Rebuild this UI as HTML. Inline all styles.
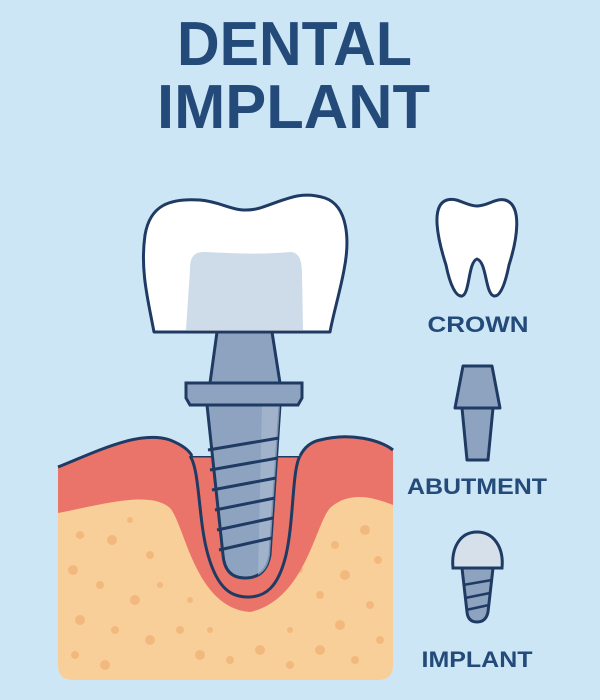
<!DOCTYPE html>
<html><head><meta charset="utf-8"><style>
html,body{margin:0;padding:0;background:#cde6f6;}
svg{display:block}
</style></head><body>
<svg width="600" height="700" viewBox="0 0 600 700" xmlns="http://www.w3.org/2000/svg">
<rect width="600" height="700" fill="#cde6f6"/>
<g font-family="Liberation Sans, sans-serif" font-weight="bold" fill="#234a78">
<text x="177" y="65" font-size="62" textLength="235" lengthAdjust="spacingAndGlyphs">DENTAL</text>
<text x="157" y="128" font-size="62" textLength="273" lengthAdjust="spacingAndGlyphs">IMPLANT</text>
<text x="478" y="332" font-size="22" text-anchor="middle" textLength="101" lengthAdjust="spacingAndGlyphs">CROWN</text>
<text x="477" y="494" font-size="22" text-anchor="middle" textLength="140" lengthAdjust="spacingAndGlyphs">ABUTMENT</text>
<text x="477" y="667" font-size="22" text-anchor="middle" textLength="111" lengthAdjust="spacingAndGlyphs">IMPLANT</text>
</g>
<clipPath id="bx"><path d="M58 467 C100 450 140 430 170 440 C185 446 190 452 192 456 L300 456 C304 448 310 442 320 440 C350 432 380 440 393 450 V665 Q393 680 378 680 H73 Q58 680 58 665 Z"/></clipPath>
<g clip-path="url(#bx)">
<rect x="58" y="400" width="335" height="280" fill="#f9cf99"/>
<g fill="#f2b97e">
<circle cx="80" cy="535" r="4"/><circle cx="112" cy="540" r="5"/><circle cx="150" cy="555" r="4"/><circle cx="73" cy="570" r="5"/><circle cx="100" cy="585" r="4"/><circle cx="135" cy="600" r="5"/><circle cx="160" cy="585" r="3"/><circle cx="80" cy="620" r="5"/><circle cx="115" cy="630" r="4"/><circle cx="150" cy="640" r="5"/><circle cx="180" cy="630" r="4"/><circle cx="75" cy="655" r="4"/><circle cx="105" cy="665" r="5"/><circle cx="200" cy="655" r="5"/><circle cx="230" cy="660" r="4"/><circle cx="260" cy="650" r="5"/><circle cx="290" cy="665" r="4"/><circle cx="320" cy="650" r="5"/><circle cx="355" cy="660" r="4"/><circle cx="380" cy="640" r="4"/><circle cx="340" cy="625" r="5"/><circle cx="370" cy="605" r="4"/><circle cx="320" cy="595" r="4"/><circle cx="345" cy="575" r="5"/><circle cx="378" cy="560" r="4"/><circle cx="335" cy="545" r="4"/><circle cx="365" cy="530" r="5"/><circle cx="130" cy="520" r="3"/><circle cx="210" cy="630" r="3"/><circle cx="290" cy="630" r="3"/><circle cx="190" cy="600" r="3"/><circle cx="300" cy="570" r="3"/>
</g>
<path d="M58 400 H393 V505 C375 498 350 490 330 508 C315 525 305 600 250 612 C195 608 185 525 170 508 C150 490 100 505 58 513 Z" fill="#ea7469"/>
<path d="M190 456 C200 470 198 520 208 555 C218 590 232 597 248 597 C265 597 278 588 286 555 C294 520 292 470 300 456" fill="#ea7469" stroke="#1f3b63" stroke-width="3"/>
<line x1="190" y1="456" x2="300" y2="456" stroke="#1f3b63" stroke-width="3"/>
</g>
<path d="M58 467 C100 450 140 430 170 440 C185 446 190 452 192 456" fill="none" stroke="#1f3b63" stroke-width="3"/>
<path d="M300 456 C304 448 310 442 320 440 C350 432 380 440 393 450" fill="none" stroke="#1f3b63" stroke-width="3"/>
<path d="M207 405 H280 L270 555 Q266 578 245 578 Q225 578 223 555 Z" fill="#8ea3bf" stroke="#1f3b63" stroke-width="3"/>
<path d="M262 405 H280 L270 555 Q268 570 258 575 Z" fill="#a8b9d0" opacity="0.7"/>
<g stroke="#1f3b63" stroke-width="3" fill="none">
<line x1="208" y1="450" x2="279" y2="438"/>
<line x1="210" y1="470" x2="278" y2="458"/>
<line x1="212" y1="490" x2="276" y2="478"/>
<line x1="215" y1="510" x2="275" y2="498"/>
<line x1="217" y1="530" x2="273" y2="518"/>
<line x1="219" y1="550" x2="272" y2="538"/>
</g>
<path d="M186 383 H302 V398 L298 405 H190 L186 398 Z" fill="#8ea3bf" stroke="#1f3b63" stroke-width="3"/>
<path d="M217 332 H272 L280 383 H210 Z" fill="#8ea3bf" stroke="#1f3b63" stroke-width="3"/>
<path d="M154 332 C148 300 140 270 145 235 C150 205 170 198 200 200 C225 202 235 215 260 208 C285 200 300 190 325 198 C348 206 350 240 344 270 C340 292 333 315 330 332 Z" fill="#fff" stroke="#1f3b63" stroke-width="3" stroke-linejoin="round"/>
<path d="M186 330 L190 270 C190 255 195 252 205 252 C230 253 255 255 290 252 C300 252 302 262 302 275 L303 330 Z" fill="#cedce9"/>
<path d="M447 200 C430 205 438 240 446 265 C450 285 456 297 462 296 C470 294 468 262 477 259 C487 262 485 294 494 296 C500 297 505 285 509 265 C517 240 523 205 505 200 C495 198 488 206 477 206 C466 206 458 197 447 200 Z" fill="#fff" stroke="#1f3b63" stroke-width="3" stroke-linejoin="round"/>
<path d="M463 366 H492 L500 408 H455 Z" fill="#8ea3bf" stroke="#1f3b63" stroke-width="3" stroke-linejoin="round"/>
<path d="M462 408 H493 L488 460 H467 Z" fill="#8ea3bf" stroke="#1f3b63" stroke-width="3" stroke-linejoin="round"/>
<path d="M462 568 H493 L488 612 Q486 622 477 622 Q468 622 467 612 Z" fill="#8ea3bf" stroke="#1f3b63" stroke-width="3"/>
<g stroke="#1f3b63" stroke-width="2.5"><line x1="463" y1="585" x2="492" y2="580"/><line x1="465" y1="598" x2="490" y2="593"/><line x1="466" y1="610" x2="489" y2="605"/></g>
<path d="M453 568 C451 548 460 532 477 532 C494 532 504 548 502 568 Z" fill="#d6e0eb" stroke="#1f3b63" stroke-width="3"/>
</svg>
</body></html>
